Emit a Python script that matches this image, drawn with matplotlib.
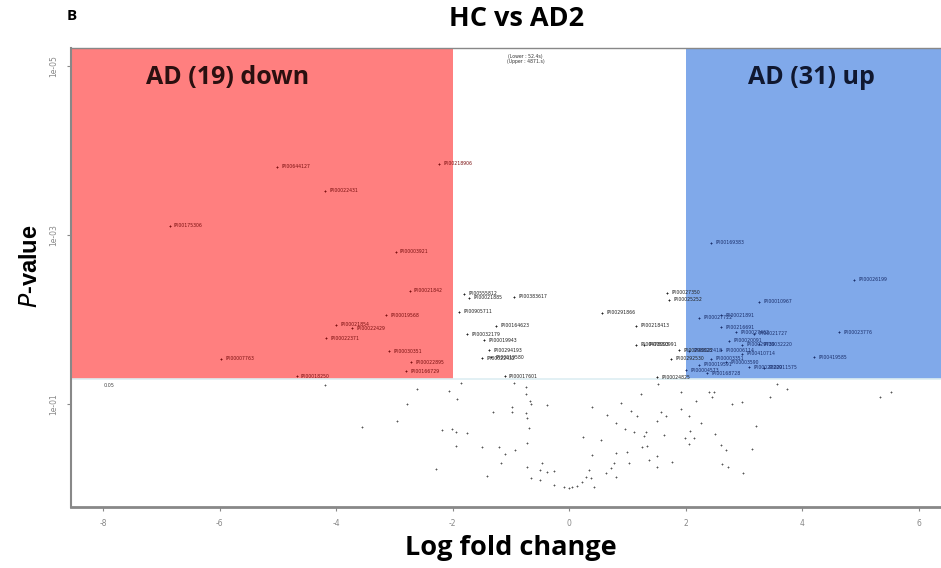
import matplotlib
matplotlib.use("Agg")
import matplotlib.pyplot as plt
from matplotlib.patches import Rectangle

# ---------------- data ----------------
# non-significant proteins (log fold change, p-value)
ns_lfc = [-4.20, -2.61, -2.06, -1.92, -1.85, -2.78, -3.55, -2.95, -2.18, -2.02,
          -1.94, -1.75, -1.94, -1.49, -1.20, -1.11, -1.17, -0.93, -2.28, -1.41,
          -1.30, -0.99, -0.99, -0.94, -0.74, -0.74, -0.67, -0.65, -0.39, -0.74,
          -0.72, -0.69, -0.72, -0.72, -0.65, -0.51, -0.46, -0.39, -0.26, -0.51,
          -0.26, -0.09, 0.00, 0.05, 0.14, 0.22, 0.29, 0.34, 0.38, 0.39,
          0.24, 0.39, 0.43, 1.53, 1.23, 0.89, 0.65, 1.06, 1.17, 0.81,
          0.96, 1.11, 1.32, 1.29, 1.51, 1.58, 1.66, 1.63, 1.92, 1.92,
          2.06, 2.18, 2.08, 1.99, 2.14, 2.06, 2.26, 2.40, 2.49, 2.45,
          2.50, 2.80, 2.97, 2.61, 2.69, 3.21, 3.14, 2.62, 2.73, 2.98,
          3.45, 3.57, 3.74, 5.33, 5.52, 1.25, 1.34, 1.37, 1.51, 1.51,
          1.77, 0.99, 0.81, 1.03, 0.77, 0.72, 0.63, 0.81, 0.55]
ns_p = [0.060, 0.066, 0.070, 0.087, 0.056, 0.100, 0.187, 0.159, 0.203, 0.198,
        0.214, 0.220, 0.314, 0.323, 0.323, 0.391, 0.499, 0.350, 0.587, 0.711,
        0.124, 0.109, 0.125, 0.057, 0.063, 0.076, 0.092, 0.100, 0.101, 0.128,
        0.147, 0.192, 0.290, 0.557, 0.752, 0.604, 0.500, 0.638, 0.610, 0.792,
        0.910, 0.960, 0.986, 0.960, 0.934, 0.838, 0.731, 0.604, 0.752, 0.109,
        0.246, 0.402, 0.960, 0.058, 0.076, 0.097, 0.135, 0.121, 0.139, 0.168,
        0.198, 0.214, 0.215, 0.239, 0.159, 0.124, 0.139, 0.233, 0.072, 0.115,
        0.139, 0.092, 0.209, 0.250, 0.250, 0.297, 0.168, 0.072, 0.072, 0.083,
        0.226, 0.100, 0.095, 0.306, 0.350, 0.182, 0.341, 0.513, 0.557, 0.656,
        0.083, 0.058, 0.066, 0.083, 0.072, 0.323, 0.314, 0.460, 0.412, 0.557,
        0.486, 0.370, 0.379, 0.499, 0.500, 0.571, 0.650, 0.731, 0.267]

# significant, down-regulated (red region)
down_lfc = [-5.01, -2.23, -4.19, -6.86, -2.98, -2.74, -3.14, -4.00, -3.72, -4.17,
            -3.09, -2.71, -2.80, -5.97, -4.68]
down_p = [1.57e-4, 1.45e-4, 3.01e-4, 7.81e-4, 1.59e-3, 4.60e-3, 8.85e-3, 0.0116,
          0.0126, 0.0166, 0.0236, 0.0318, 0.0406, 0.0290, 0.0467]
down_id = ["IPI00644127", "IPI00218906", "IPI00022431", "IPI00175306", "IPI00003921",
           "IPI00021842", "IPI00019568", "IPI00021854", "IPI00022429", "IPI00022371",
           "IPI00030351", "IPI00022895", "IPI00166729", "IPI00007763", "IPI00018250"]

# significant, |logFC| < 2 (white region)
mid_lfc = [-1.80, -1.72, -0.94, -1.89, 0.57, -1.25, 1.15, -1.75, -1.46, -1.37,
           -1.49, -1.34, 1.15, 1.29, -1.11, 1.89, 1.51, 1.68, 1.72, 1.75]
mid_p = [4.99e-3, 5.5e-3, 5.42e-3, 8.15e-3, 8.37e-3, 0.0119, 0.0119, 0.0149, 0.0175,
         0.0230, 0.0286, 0.0280, 0.0200, 0.0200, 0.0467, 0.0230, 0.0478, 4.85e-3,
         5.88e-3, 0.0290]
mid_id = ["IPI00555812", "IPI00021885", "IPI00383617", "IPI00905711", "IPI00291866",
          "IPI00164623", "IPI00218413", "IPI00032179", "IPI00019943", "IPI00294193",
          "IPI00022432", "IPI00019580", "IPI00478003", "IPI00550991", "IPI00017601",
          "IPI00298828", "IPI00024825", "IPI00027350", "IPI00025252", "IPI00292530"]

# significant, up-regulated (blue region)
up_lfc = [2.44, 4.89, 3.26, 2.61, 2.23, 2.61, 2.86, 4.63, 2.97, 3.26,
          2.61, 4.20, 2.97, 2.37, 2.69, 3.09, 2.01, 2.06, 2.44, 3.34,
          2.23, 2.74, 3.17]
up_p = [1.24e-3, 3.41e-3, 6.21e-3, 8.85e-3, 9.59e-3, 0.0123, 0.0141, 0.0141, 0.0200,
        0.0195, 0.0230, 0.0278, 0.0254, 0.0430, 0.0318, 0.0365, 0.0400, 0.0235,
        0.0290, 0.0370, 0.0340, 0.0178, 0.0147]
up_id = ["IPI00169383", "IPI00026199", "IPI00010967", "IPI00021891", "IPI00027722",
         "IPI00216691", "IPI00027462", "IPI00023776", "IPI00029739", "IPI00032220",
         "IPI00006114", "IPI00419585", "IPI00410714", "IPI00168728", "IPI00003590",
         "IPI00022229", "IPI00004573", "IPI00022418", "IPI00003351", "IPI00011575",
         "IPI00019591", "IPI00020091", "IPI00021727"]

x_ticks = [-8, -6, -4, -2, 0, 2, 4, 6]
y_ticks = [1e-5, 1e-3, 1e-1]
y_ticklabels = ["1e-05", "1e-03", "1e-01"]
fc_cut = 2
p_cut = 0.05

# ---------------- figure ----------------
fig = plt.figure(figsize=(9.41, 5.68), dpi=100)
ax = fig.add_axes([0.0755, 0.1074, 0.9245, 0.8081])
ax.set_yscale("log")
xmin, xmax = -8.55, 6.38
ymin, ymax = 1.64, 6.2e-6
ax.set_xlim(xmin, xmax)
ax.set_ylim(ymin, ymax)

red = "#FF7F7F"
blue = "#80A9EA"
ax.add_patch(Rectangle((xmin, p_cut), -fc_cut - xmin, ymax - p_cut,
                       facecolor=red, edgecolor="none", zorder=0))
ax.add_patch(Rectangle((fc_cut, p_cut), xmax - fc_cut, ymax - p_cut,
                       facecolor=blue, edgecolor="none", zorder=0))
ax.axhline(p_cut, color="#DDEEF2", lw=1.2, zorder=0.5)
ax.text(-7.9, 0.056, "0.05", fontsize=3.5, color="#444444", ha="center", va="top")

# points
ax.scatter(ns_lfc, ns_p, s=2.5, color="#555555", marker="+", linewidths=0.6, zorder=2)
ax.scatter(down_lfc, down_p, s=3, color="#7A1010", marker="+", linewidths=0.7, zorder=3)
ax.scatter(mid_lfc, mid_p, s=3, color="#222222", marker="+", linewidths=0.7, zorder=3)
ax.scatter(up_lfc, up_p, s=3, color="#1A2E6A", marker="+", linewidths=0.7, zorder=3)

for xs, ps, ids, c in [(down_lfc, down_p, down_id, "#7A1010"),
                       (mid_lfc, mid_p, mid_id, "#222222"),
                       (up_lfc, up_p, up_id, "#1A2E6A")]:
    for xv, pv, s in zip(xs, ps, ids):
        ax.annotate(s, (xv, pv), xytext=(3, 0), textcoords="offset points",
                    fontsize=3.3, color=c, va="center", ha="left", zorder=4)

# tiny header text
ax.text(-0.75, 8.3e-6, "(Lower : 52.4s)\n(Upper : 4871.s)", fontsize=3.3,
        color="#333333", ha="center", va="center", linespacing=1.1)

ax.text(-5.87, 1.39e-5, "AD (19) down", fontsize=18, fontweight="bold",
        family="Open Sans", color="#2A1010", ha="center", va="center")
ax.text(4.15, 1.39e-5, "AD (31) up", fontsize=18, fontweight="bold",
        family="Open Sans", color="#101830", ha="center", va="center")

# axes styling
ax.set_xticks(x_ticks)
ax.set_xticklabels([str(t) for t in x_ticks])
ax.set_yticks(y_ticks)
ax.set_yticklabels(y_ticklabels, rotation=90, va="center")
ax.minorticks_off()
ax.tick_params(axis="both", labelsize=5.5, colors="#888888", length=3, width=0.8,
               labelcolor="#888888")
ax.tick_params(axis="x", pad=6)
ax.tick_params(axis="y", pad=6)
for side in ["left", "bottom", "top"]:
    ax.spines[side].set_color("#888888")
ax.spines["bottom"].set_linewidth(2)
ax.spines["left"].set_linewidth(1.5)
ax.spines["top"].set_linewidth(1.0)
ax.spines["right"].set_visible(False)

ax.set_xlabel("Log fold change", fontsize=19.5, fontweight="bold",
              family="Open Sans", va="center")
ax.xaxis.set_label_coords(0.506, -0.089)
ax.set_ylabel("$\\bf{\\it{P}}$-value", fontsize=17, fontweight="bold",
              family="Liberation Sans")
ax.yaxis.set_label_coords(-0.033, 0.525)

fig.text(0.549, 0.967, "HC vs AD2", fontsize=19.5, fontweight="bold",
         family="Open Sans", ha="center", va="center")
fig.text(0.076, 0.972, "B", fontsize=11, fontweight="bold",
         family="Open Sans", ha="center", va="center")

fig.savefig("out.png", dpi=100)
